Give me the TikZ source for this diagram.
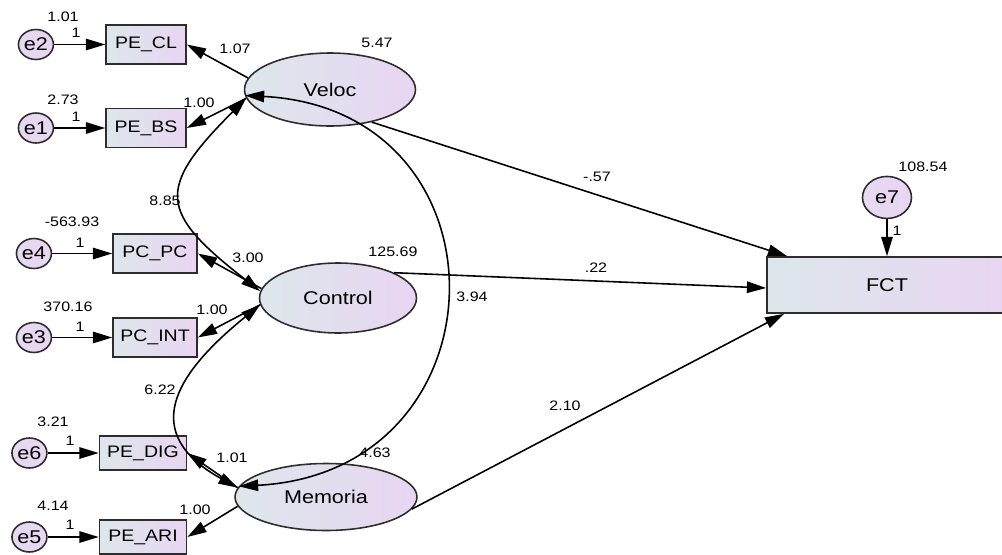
\documentclass[tikz,border=0pt]{standalone}
\usepackage{fontspec}
\setmainfont{Liberation Sans}[FakeStretch=1.17]
\usetikzlibrary{arrows.meta,positioning,shapes.geometric}
\definecolor{fillL}{RGB}{221,231,235}
\definecolor{fillR}{RGB}{233,213,242}
\definecolor{rim}{RGB}{45,45,45}
\tikzset{
%Define standard arrow tip
    >={Triangle[length=11pt,width=6.5pt]},
%Define style for boxes
    obs/.style={
           rectangle,
           draw=rim, line width=0.9pt,
           left color=fillL, right color=fillR,
           minimum width=1.6cm,
           minimum height=0.78cm,
           inner sep=1pt,
           font=\fontsize{9.5}{11}\selectfont},
    lat/.style={
           ellipse,
           draw=rim, line width=0.9pt,
           left color=fillL, right color=fillR,
           inner sep=0pt,
           font=\fontsize{10.5}{12}\selectfont},
    err/.style={
           ellipse,
           draw=rim, line width=0.9pt,
           left color=fillL!25!fillR, right color=fillR,
           minimum width=0.7cm,
           minimum height=0.6cm,
           inner sep=0pt,
           font=\fontsize{10.5}{12}\selectfont},
    num/.style={
           inner sep=0pt,
           font=\fontsize{7.8}{9}\selectfont},
% Define arrow style
    pil/.style={
           ->,
           line width=0.9pt},
    cov/.style={
           <->,
           line width=0.9pt}
}
\begin{document}
\begin{tikzpicture}[x=0.02cm, y=0.02cm]
\useasboundingbox (0,0) rectangle (1002,-555);
% latent factors
\node[lat, minimum width=3.42cm, minimum height=1.46cm] (Veloc) at (330,-89.5) {Veloc};
\node[lat, minimum width=3.14cm, minimum height=1.40cm] (Control) at (338,-298) {Control};
\node[lat, minimum width=3.64cm, minimum height=1.34cm] (Memoria) at (326,-497) {Memoria};
% indicators
\node[obs] (peCL) at (146,-44.5) {PE\_CL};
\node[obs] (peBS) at (146,-128) {PE\_BS};
\node[obs, minimum width=1.68cm] (pcPC) at (155,-253.5) {PC\_PC};
\node[obs, minimum width=1.68cm] (pcINT) at (155,-337.5) {PC\_INT};
\node[obs, minimum width=1.74cm, minimum height=0.68cm] (peDIG) at (143,-453) {PE\_DIG};
\node[obs, minimum width=1.74cm, minimum height=0.68cm] (peARI) at (143,-537) {PE\_ARI};
\node[obs, minimum width=4.8cm, minimum height=1.12cm, font=\fontsize{10.5}{12}\selectfont] (FCT) at (887,-285) {FCT};
% errors
\node[err, left=1.02cm of peCL] (e2) {e2};
\node[err, left=1.02cm of peBS] (e1) {e1};
\node[err, left=1.2cm of pcPC] (e4) {e4};
\node[err, left=1.2cm of pcINT] (e3) {e3};
\node[err, left=1.02cm of peDIG] (e6) {e6};
\node[err, left=1.02cm of peARI] (e5) {e5};
\node[err, minimum width=0.98cm, minimum height=0.84cm, above=0.74cm of FCT] (e7) {e7};
% paths
\draw[pil] (e2) -- (peCL);
\draw[pil] (e1) -- (peBS);
\draw[pil] (e4) -- (pcPC);
\draw[pil] (e3) -- (pcINT);
\draw[pil] (e6) -- (peDIG);
\draw[pil] (e5) -- (peARI);
\draw[pil] (e7) -- (FCT);
\draw[pil] (Veloc.172) -- (peCL.east);
\draw[pil] (Veloc.186) -- (peBS.east);
\draw[pil] (Control.173) -- (pcPC.east);
\draw[pil] (Control.185) -- (pcINT.east);
\draw[pil] (Memoria.174) -- (peDIG.east);
\draw[pil] (Memoria.186) -- (peARI.east);
\draw[pil] (Veloc.-38) -- ([xshift=0.42cm]FCT.north west);
\draw[pil] (Control.north east) -- ([yshift=-0.06cm]FCT.west);
\draw[pil] (Memoria.-8) -- ([xshift=0.36cm]FCT.south west);
% covariances
\draw[cov] (Veloc.186) to[out=225, in=142, looseness=1.7] (Control.175);
\draw[cov] (Control.185) to[out=219, in=151, looseness=1.56] (Memoria.174);
\draw[cov] (Veloc.184) to[out=357, in=3, looseness=1.77] (Memoria.173);
% estimates
\node[num] (ve2) at (63,-17) {1.01};
\node[num] (o2) at (76,-33) {1};
\node[num] (ve1) at (63,-100) {2.73};
\node[num] (o1) at (76,-117) {1};
\node[num] (ve4) at (72,-222) {-563.93};
\node[num] (o4) at (80,-243) {1};
\node[num] (ve3) at (68,-307) {370.16};
\node[num] (o3) at (80,-327) {1};
\node[num] (ve6) at (53,-422) {3.21};
\node[num] (o6) at (70,-441) {1};
\node[num] (ve5) at (53,-506) {4.14};
\node[num] (o5) at (70,-525) {1};
\node[num] (ve7) at (923,-167) {108.54};
\node[num] (o7) at (897,-231) {1};
\node[num] (vVeloc) at (377,-43) {5.47};
\node[num] (vControl) at (393,-252) {125.69};
\node[num] (vMemoria) at (375,-453) {4.63};
\node[num] (lCL) at (235,-49) {1.07};
\node[num] (lBS) at (199,-103) {1.00};
\node[num] (lPC) at (248,-258) {3.00};
\node[num] (lINT) at (212,-310) {1.00};
\node[num] (lDIG) at (232,-458) {1.01};
\node[num] (lARI) at (195,-510) {1.00};
\node[num] (cVC) at (165,-201) {8.85};
\node[num] (cVM) at (472,-297) {3.94};
\node[num] (cCM) at (160,-390) {6.22};
\node[num] (bVeloc) at (597,-177) {-.57};
\node[num] (bControl) at (596,-268) {.22};
\node[num] (bMemoria) at (565,-406) {2.10};
\end{tikzpicture}
\end{document}
